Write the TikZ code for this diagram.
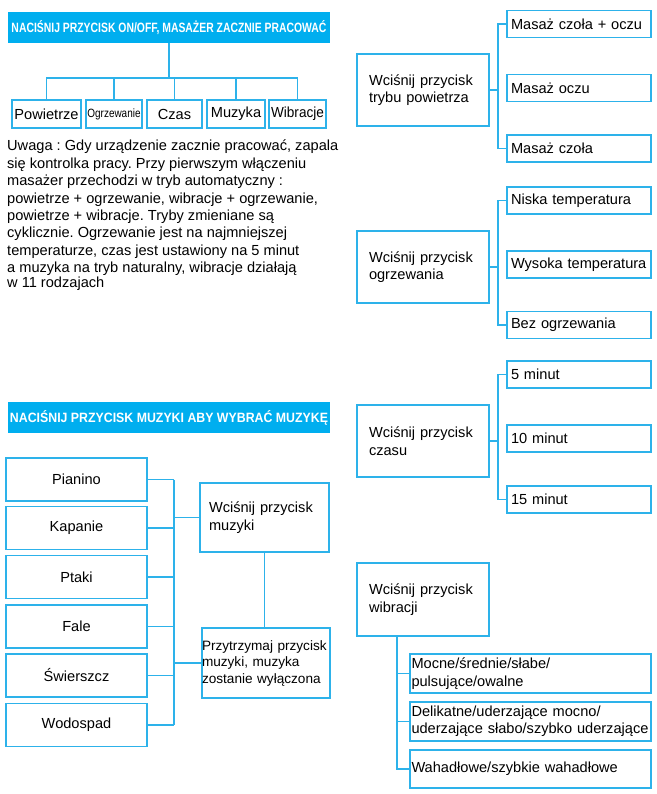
\documentclass[tikz,border=0pt]{standalone}
\usepackage{fontspec}
\usepackage{graphicx}
\setmainfont{Liberation Sans}
\frenchspacing
\definecolor{bannerblue}{RGB}{0,174,239}
\definecolor{lineblue}{RGB}{45,178,234}
\newcommand{\txt}{\fontsize{14.6}{17.4}\selectfont}
\newcommand{\bannertext}[2]{\resizebox{#1}{\height}{\fontsize{13.5}{15}\selectfont\bfseries #2}}

\begin{document}
\begin{tikzpicture}[x=1pt,y=-1pt,every node/.style={font=\txt},
    banner/.style={fill=bannerblue,text=white,minimum width=322,minimum height=31,inner sep=0pt},
    topbox/.style={draw=lineblue,line width=1.1pt,minimum height=28,inner sep=0pt},
    optbox/.style={draw=lineblue,line width=1.1pt,text width=136,inner xsep=4,inner ysep=0pt,align=left,minimum height=27},
    pressbox/.style={draw=lineblue,line width=1.1pt,text width=108,inner xsep=12,inner ysep=0pt,align=left,minimum height=72},
    soundbox/.style={draw=lineblue,line width=1.1pt,minimum width=141,minimum height=43,inner sep=0pt},
    wire/.style={draw=lineblue,line width=1.5pt}]
    \useasboundingbox (0,0) rectangle (656,794);

    % power button and the five modes
    \node[banner] (ban1) at (169,27.5) {\bannertext{315pt}{NACIŚNIJ PRZYCISK ON/OFF, MASAŻER ZACZNIE PRACOWAĆ}};
    \node[topbox,minimum width=69] (pow) at (46.5,114) {Powietrze};
    \node[topbox,minimum width=56] (ogr) at (114,114) {\scalebox{0.83}[1]{\fontsize{12}{14}\selectfont Ogrzewanie}};
    \node[topbox,minimum width=55] (czas) at (174.5,114) {Czas};
    \node[topbox,minimum width=58] (muz) at (236,114) {Muzyka};
    \node[topbox,minimum width=57] (wib) at (297.5,114) {\scalebox{0.93}[1]{Wibracje}};
    \coordinate (split) at (169,78);
    \draw[wire] (ban1.south) -- (split);
    \draw[wire] (pow.north) |- (split) -| (wib.north);
    \foreach \n in {ogr,czas,muz}
        \draw[wire] (\n.north) -- (\n.north |- split);

    \node[anchor=north west,align=left,inner sep=0pt] (note) at (7,140) {%
        Uwaga : Gdy urządzenie zacznie pracować, zapala\\
        się kontrolka pracy. Przy pierwszym włączeniu\\
        masażer przechodzi w tryb automatyczny :\\
        powietrze + ogrzewanie, wibracje + ogrzewanie,\\
        powietrze + wibracje. Tryby zmieniane są\\
        cyklicznie. Ogrzewanie jest na najmniejszej\\
        temperaturze, czas jest ustawiony na 5 minut\\
        a muzyka na tryb naturalny, wibracje działają\\[-3pt]
        w 11 rodzajach};

    % right column
    \coordinate (rb) at (498,0);
    \node[pressbox] (pa) at (423,90) {Wciśnij przycisk\\trybu powietrza};
    \node[optbox] (a1) at (579,24) {Masaż czoła + oczu};
    \node[optbox] (a2) at (579,88) {Masaż oczu};
    \node[optbox] (a3) at (579,148.5) {Masaż czoła};
    \draw[wire] (pa.east) -- (pa.east -| rb);
    \draw[wire] (a1.west) -- (a1.west -| rb) -- (a3.west -| rb) -- (a3.west);

    \node[pressbox] (pb) at (423,267) {Wciśnij przycisk\\ogrzewania};
    \node[optbox] (b1) at (579,200.5) {Niska temperatura};
    \node[optbox] (b2) at (579,264.5) {Wysoka temperatura};
    \node[optbox] (b3) at (579,325) {Bez ogrzewania};
    \draw[wire] (pb.east) -- (pb.east -| rb);
    \draw[wire] (b1.west) -- (b1.west -| rb) -- (b3.west -| rb) -- (b3.west);

    \node[pressbox] (pc) at (423,441) {Wciśnij przycisk\\czasu};
    \node[optbox] (c1) at (579,374.5) {5 minut};
    \node[optbox] (c2) at (579,438.5) {10 minut};
    \node[optbox] (c3) at (579,499.5) {15 minut};
    \draw[wire] (pc.east) -- (pc.east -| rb);
    \draw[wire] (c1.west) -- (c1.west -| rb) -- (c3.west -| rb) -- (c3.west);

    \node[pressbox,minimum height=73] (pd) at (423,599.5) {Wciśnij przycisk\\wibracji};
    \node[optbox,text width=238,inner xsep=1.5,minimum height=39] (d1) at (530.5,673.5) {Mocne/średnie/słabe/\\pulsujące/owalne};
    \node[optbox,text width=238,inner xsep=1.5,minimum height=39] (d2) at (530.5,721.5) {Delikatne/uderzające mocno/\\uderzające słabo/szybko uderzające};
    \node[optbox,text width=238,inner xsep=1.5,minimum height=38] (d3) at (530.5,769) {Wahadłowe/szybkie wahadłowe};
    \coordinate (vd) at (397,0);
    \draw[wire] (pd.south -| vd) -- (d3.west -| vd) -- (d3.west);
    \foreach \n in {d1,d2}
        \draw[wire] (\n.west -| vd) -- (\n.west);

    % music
    \node[banner] (ban2) at (169,417.5) {\bannertext{318pt}{NACIŚNIJ PRZYCISK MUZYKI ABY WYBRAĆ MUZYKĘ}};
    \node[soundbox] (pia) at (76.5,479.5) {Pianino};
    \node[soundbox] (kap) at (76.5,528) {Kapanie};
    \node[soundbox] (pta) at (76.5,577) {Ptaki};
    \node[soundbox] (fal) at (76.5,626.5) {Fale};
    \node[soundbox] (swi) at (76.5,675.5) {Świerszcz};
    \node[soundbox] (wod) at (76.5,725) {Wodospad};
    \node[draw=lineblue,line width=1.1pt,text width=111,inner xsep=9,inner ysep=0pt,align=left,minimum height=69] (mpar) at (264.5,517.5) {Wciśnij przycisk\\muzyki};
    \node[draw=lineblue,line width=1.1pt,text width=128,inner xsep=0pt,inner ysep=0pt,align=left,minimum height=70,font=\fontsize{13.6}{16.5}\selectfont] (hold) at (266,663) {Przytrzymaj przycisk\\muzyki, muzyka\\zostanie wyłączona};
    \coordinate (mb) at (174,0);
    \foreach \n in {pia,kap,pta,fal,swi,wod}
        \draw[wire] (\n.east) -- (\n.east -| mb);
    \draw[wire] (pia.east -| mb) -- (wod.east -| mb);
    \draw[wire] (mpar.west -| mb) -- (mpar.west);
    \draw[wire] (hold.west -| mb) -- (hold.west);
    \draw[wire] (mpar.south) -- (mpar.south |- hold.north);
\end{tikzpicture}
\end{document}
